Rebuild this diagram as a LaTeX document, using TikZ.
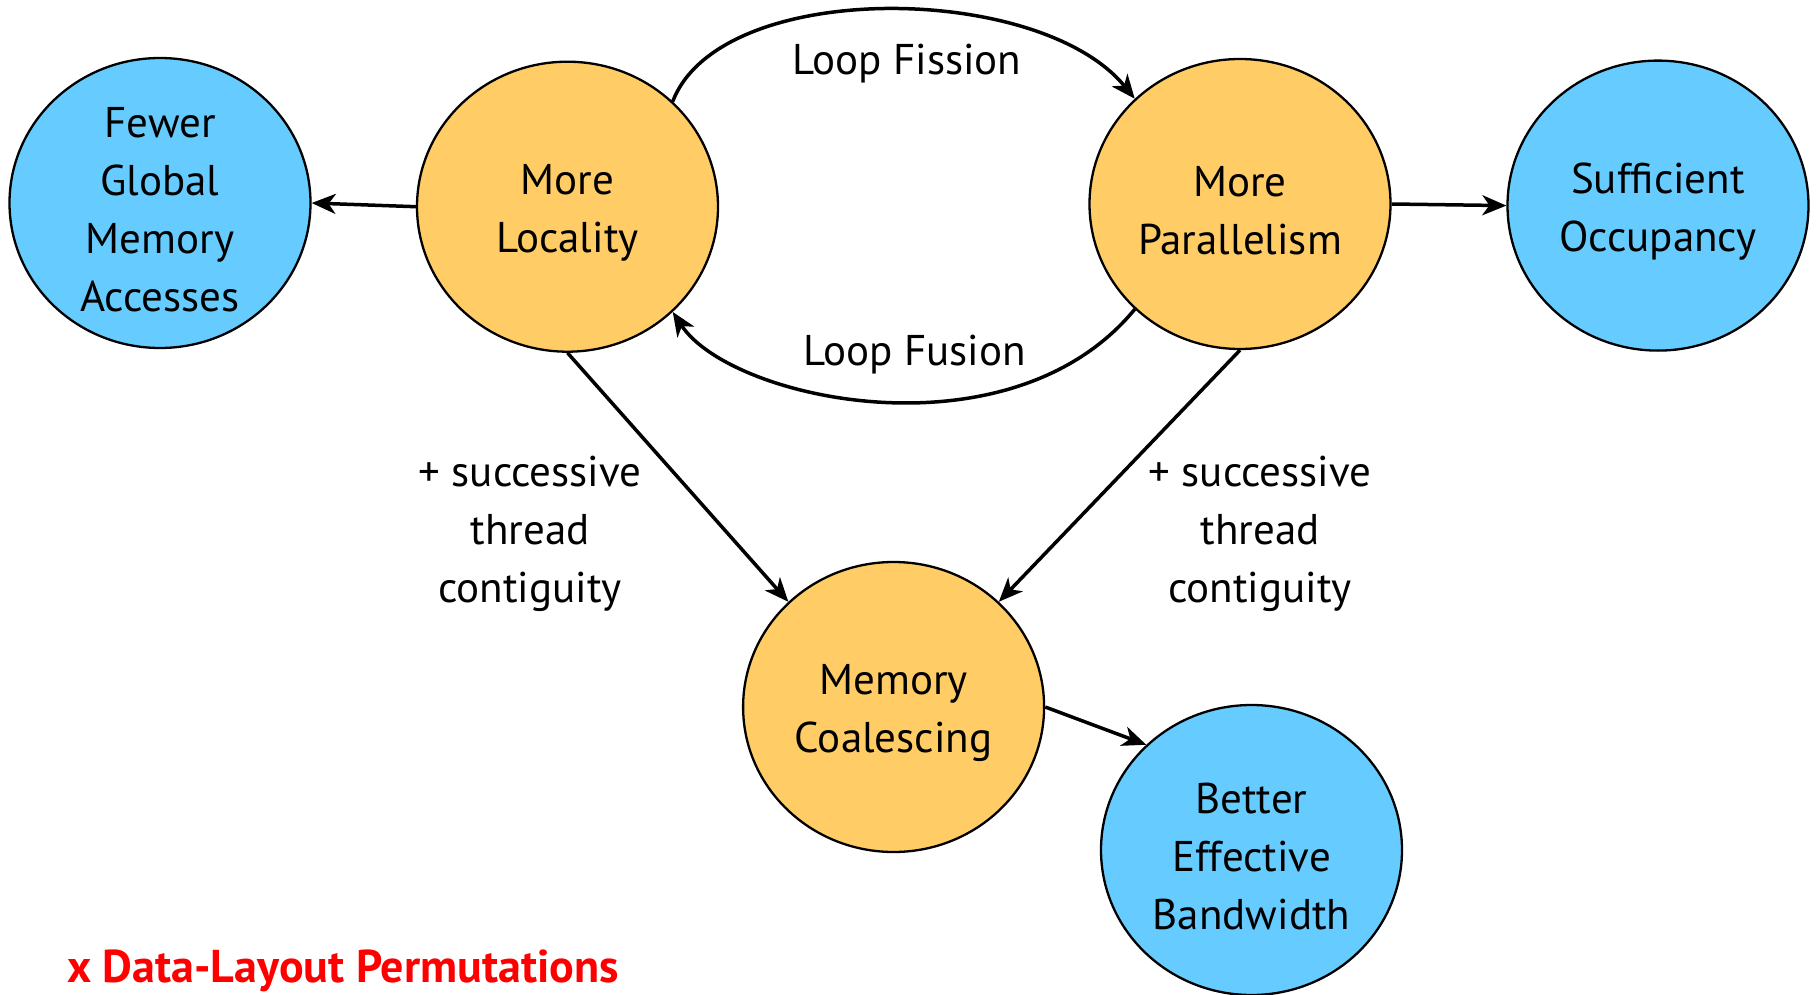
\documentclass[tikz,border=0pt]{standalone}
\usepackage{fontspec}
\setmainfont{PT Sans}
\usetikzlibrary{shapes.geometric,arrows.meta}
\definecolor{cblue}{RGB}{102,204,255}
\definecolor{corange}{RGB}{255,204,102}
\definecolor{cred}{RGB}{255,0,0}
\newcommand{\tallfirst}{\rule{0pt}{43pt}}
\tikzset{
  bubble/.style={ellipse, draw=black, line width=2.3pt, minimum width=301pt, minimum height=290pt, inner xsep=0pt, inner ysep=-30pt, align=center, font=\fontsize{43}{58}\selectfont},
  bluebub/.style={bubble, fill=cblue},
  orangebub/.style={bubble, fill=corange},
  conn/.style={line width=3.5pt, -{Stealth[length=24pt,width=20pt,inset=7pt]}},
  lbl/.style={align=center, font=\fontsize{43}{58}\selectfont, inner sep=0pt}
}
\begin{document}
\begin{tikzpicture}[x=1pt,y=-1pt]
\useasboundingbox (0,0) rectangle (1816,995);
\node[bluebub] (few) at (160,203) {\tallfirst Fewer\\Global\\Memory\\Accesses};
\node[orangebub] (loc) at (567.5,206.7) {\tallfirst More\\Locality};
\node[orangebub] (par) at (1240,204) {\tallfirst More\\Parallelism};
\node[bluebub] (suf) at (1658,205.6) {\tallfirst Sufficient\\Occupancy};
\node[orangebub] (coal) at (893.6,707) {\tallfirst Memory\\Coalescing};
\node[bluebub] (bet) at (1251.5,850) {\tallfirst Better\\Effective\\Bandwidth};

\draw[conn] (loc.west) -- (few.east);
\draw[conn] (par.east) -- (suf.west);
\draw[conn] (loc.south) -- (coal.135);
\draw[conn] (par.south) -- (coal.45);
\draw[conn] (coal.east) -- (bet.135);
\draw[conn] (loc.45) .. controls (720,-22) and (1040,-18) .. (par.135);
\draw[conn] (par.225) .. controls (1010,461) and (730,400) .. (loc.315);

\node[lbl] (fis) at (907,64) {Loop Fission};
\node[lbl] (fus) at (915,355) {Loop Fusion};
\node[lbl] (sl) at (530,534) {+ successive\\thread\\contiguity};
\node[lbl] (sr) at (1260,534) {+ successive\\thread\\contiguity};
\node[lbl, text=cred, anchor=west, font=\fontsize{46}{58}\selectfont\bfseries] (dl) at (67,971) {x Data-Layout Permutations};
\end{tikzpicture}
\end{document}
